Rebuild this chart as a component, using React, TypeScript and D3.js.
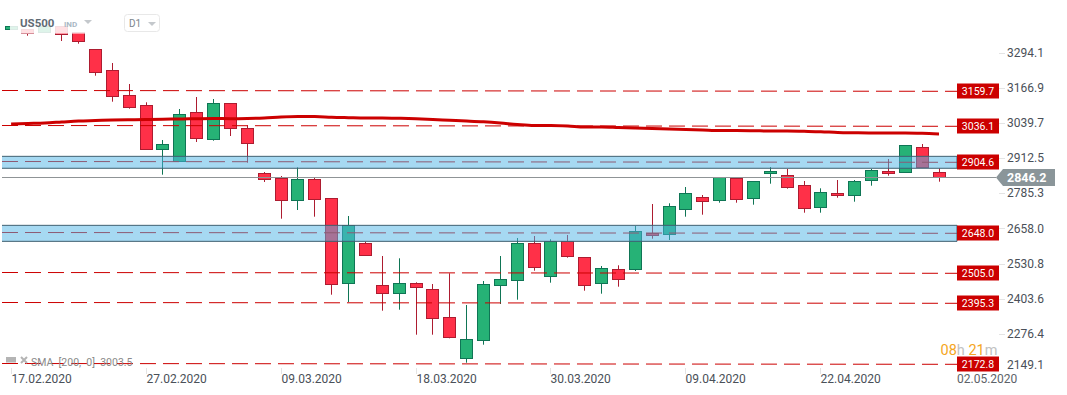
import React from "react";
import * as d3 from "d3";

const opens = [3380.4,3376.8,3367.1,3391.2,3369.6,3307.3,3231.7,3141.7,3105.7,2945.9,2902.7,3080.5,2983.3,3112.9,3022.9,2860.9,2842.9,2763.7,2839.3,2770.9,2463.5,2608.9,2457.7,2428.9,2464.9,2443.3,2342.5,2194.9,2259.7,2457.7,2475.7,2608.9,2490.1,2614.7,2558.5,2464.9,2515.3,2513.9,2646.0,2641.3,2731.3,2774.5,2763.7,2844.0,2770.9,2860.9,2853.7,2817.7,2738.5,2788.9,2781.7,2835.7,2868.1,2864.5,2954.5,2864.5];
const closes = [3391.2,3366.0,3391.2,3362.4,3334.7,3224.5,3138.1,3097.1,2947.3,2965.3,3073.3,2985.5,3112.9,3021.5,2967.5,2837.9,2763.7,2839.3,2765.9,2459.9,2672.3,2564.3,2428.9,2464.9,2450.5,2338.9,2270.5,2263.3,2461.3,2479.3,2608.9,2522.5,2614.7,2562.1,2457.7,2518.9,2479.3,2652.1,2636.3,2742.1,2788.9,2760.1,2846.5,2767.3,2832.1,2868.1,2810.5,2734.9,2792.5,2780.3,2832.1,2871.7,2860.9,2961.7,2882.5,2847.6];
const highs = [3391.2,3376.8,3391.2,3391.2,3369.6,3307.3,3258.0,3182.4,3116.5,2980.8,3092.4,3135.6,3128.4,3112.9,3033.7,2865.6,2851.2,2882.5,2845.1,2770.9,2707.2,2614.7,2563.2,2554.9,2468.5,2462.4,2500.9,2386.8,2473.2,2563.2,2628.0,2635.2,2623.3,2638.8,2558.5,2527.2,2529.7,2671.2,2750.4,2752.9,2811.6,2782.8,2846.5,2844.0,2832.1,2883.6,2876.4,2833.2,2806.9,2836.8,2836.8,2876.4,2912.4,2961.7,2966.4,2878.9];
const lows = [3380.4,3356.3,3367.1,3337.2,3327.5,3212.3,3118.7,3093.5,2947.3,2855.9,2902.7,2973.6,2978.3,2995.2,2899.1,2829.6,2697.5,2728.8,2704.7,2423.9,2397.6,2564.3,2366.3,2369.9,2279.9,2279.9,2266.9,2179.1,2243.9,2390.4,2405.9,2510.3,2467.1,2557.1,2438.3,2427.5,2452.7,2509.2,2625.5,2620.8,2704.7,2711.9,2755.1,2755.1,2747.9,2823.5,2805.5,2719.1,2719.1,2773.1,2758.7,2816.3,2852.3,2864.5,2882.5,2830.7];
const sma = [3038.4,3040.2,3042,3045.6,3049.2,3051,3052.8,3053.5,3054.6,3055.7,3056.4,3057.5,3058.2,3057.5,3058.2,3060,3063.6,3065.4,3065.4,3062.5,3061.1,3060,3060,3058.9,3057.1,3054.6,3051.7,3049.2,3046.3,3042,3036.6,3033,3033,3031.2,3027.6,3027.6,3025.8,3024,3022.2,3020.4,3018.6,3016.8,3015,3015,3014.3,3013.2,3013.2,3012.1,3010.7,3007.8,3006.7,3006,3006,3006,3004.9,3002.4];

const levelLabels = ["3159.7","3036.1","2904.6","2648.0","2505.0","2395.3","2172.8"];
const levelPrices = [3159,3033,2903.4,2647.8,2503.8,2395.8,2176.2];
const bandTops = [2922,2673.6];
const bandBottoms = [2879,2616];
const currentPrice = 2845.8;

const axisTicks = ["3294.1","3166.9","3039.7","2912.5","2785.3","2658.0","2530.8","2403.6","2276.4"];
const dateLabels = ["17.02.2020","27.02.2020","09.03.2020","18.03.2020","30.03.2020","09.04.2020","22.04.2020"];
const dateIndexes = [0,8,16,24,32,40,48];

const FONT = "Roboto, sans-serif";
const RED = "#cc0000";

export default function App() {
  const x = d3.scaleLinear().domain([0, 55]).range([11.1, 939]);
  const y = d3.scaleLinear().domain([3484.8, 3484.8 - 3.6 * 395]).range([0, 395]);
  const axisY = d3.scaleLinear().domain([3294.1, 2276.4]).range([53.3, 334.3]);
  const cx = (i: number) => Math.floor(x(i)) + 0.5;
  const snap = (v: number) => Math.floor(v) + 0.5;
  const smaLine = d3.line<number>().x((_, i) => x(i)).y((d) => y(d)).curve(d3.curveMonotoneX);
  const left = 2;
  const right = 957;

  return (
    <svg width={1067} height={395} style={{ position: "fixed", left: 0, top: 0, display: "block", background: "#fff" }} fontFamily={FONT}>
      {/* candles */}
      {opens.map((o, i) => {
        const c = closes[i];
        const bull = c >= o;
        const stroke = bull ? "#0f7555" : "#ad1c30";
        const fill = bull ? "#26b276" : "#ff3048";
        const top = snap(y(Math.max(o, c)));
        const bot = snap(y(Math.min(o, c)));
        return (
          <g key={i}>
            <line x1={cx(i)} x2={cx(i)} y1={y(highs[i])} y2={y(lows[i])} stroke={stroke} strokeWidth={1} />
            <rect x={cx(i) - 6} y={top} width={12} height={Math.max(bot - top, 1)} fill={fill} stroke={stroke} strokeWidth={1} />
          </g>
        );
      })}

      {/* current price line */}
      <line x1={left} x2={996} y1={snap(y(currentPrice))} y2={snap(y(currentPrice))} stroke="#8f9496" strokeWidth={1} />

      {/* horizontal levels */}
      {levelPrices.map((p, i) => (
        <line key={i} x1={left} x2={right} y1={snap(y(p))} y2={snap(y(p)) + 0.8} stroke={RED} strokeWidth={1} strokeDasharray="16 7" />
      ))}

      {/* bands */}
      {bandTops.map((t, i) => (
        <g key={i}>
          <rect x={left} y={y(t)} width={right - left} height={y(bandBottoms[i]) - y(t)} fill="#4db3e5" fillOpacity={0.5} />
          <line x1={left} x2={right} y1={y(t)} y2={y(t)} stroke="#3f5f70" strokeWidth={1} />
          <line x1={left} x2={right} y1={y(bandBottoms[i])} y2={y(bandBottoms[i])} stroke="#3f5f70" strokeWidth={1} />
          <line x1={right} x2={right} y1={y(t)} y2={y(bandBottoms[i])} stroke="#3f5f70" strokeWidth={1} />
        </g>
      ))}

      {/* SMA */}
      <path d={smaLine(sma) ?? ""} fill="none" stroke={RED} strokeWidth={3} />

      {/* header fade */}
      <rect x={10} y={0} width={170} height={33.6} fill="#fff" fillOpacity={0.85} />
      <text x={20} y={27} fontSize={11.5} fontWeight={700} fill="#5f6b75">US500</text>
      <text x={64} y={27} fontSize={8} fontWeight={700} fill="#a9b8c4">IND</text>
      <path d="M84 20 L92 20 L88 24 Z" fill="#c4c8cc" />
      <rect x={124.5} y={14.5} width={35} height={17} rx={3} fill="#fff" stroke="#e8e8e8" />
      <text x={129} y={27} fontSize={10} fill="#7c858c">D1</text>
      <path d="M148 22 L156 22 L152 26 Z" fill="#c4c8cc" />

      {/* level labels */}
      {levelLabels.map((l, i) => {
        const c = snap(y(levelPrices[i])) + 0.5;
        return (
          <g key={l}>
            <rect x={957} y={c - 7.5} width={42} height={15} fill={RED} />
            <text x={978} y={c + 3.6} textAnchor="middle" fontSize={10.5} fill="#fff">{l}</text>
          </g>
        );
      })}

      {/* price axis */}
      {axisTicks.map((t) => (
        <g key={t}>
          <line x1={999} x2={1005} y1={snap(axisY(+t))} y2={snap(axisY(+t))} stroke="#e4e4e4" />
          <text x={1007} y={axisY(+t) + 3.7} fontSize={12} fill="#4a5058">{t}</text>
        </g>
      ))}
      <text x={1007} y={368.5} fontSize={12} fill="#4a5058">2149.1</text>

      {/* current price tag */}
      <path d={`M996 ${snap(y(currentPrice))} L1003 169 L1055 169 L1055 186 L1003 186 Z`} fill="#8a9599" />
      <text x={1007} y={182.3} fontSize={12.5} fontWeight={700} fill="#fff">2846.2</text>

      {/* countdown */}
      <text x={940.5} y={355} fontSize={14.5}>
        <tspan fill="#f5a623">08</tspan>
        <tspan fill="#c2c2c2">h </tspan>
        <tspan fill="#f5a623">21</tspan>
        <tspan fill="#c2c2c2">m</tspan>
      </text>

      {/* date axis */}
      {dateLabels.map((d, i) => (
        <g key={d}>
          <line x1={cx(dateIndexes[i])} x2={cx(dateIndexes[i])} y1={368} y2={374} stroke="#e4e4e4" />
          <text x={cx(dateIndexes[i])} y={383} fontSize={12} fill="#4a5058">{d}</text>
        </g>
      ))}
      <text x={957} y={383} fontSize={12} fill="#5c6268">02.05.2020</text>

      {/* SMA legend */}
      <rect x={6} y={357} width={10} height={5.5} fill="#b4b4b4" />
      <path d="M21 357 L27 363 M27 357 L21 363" stroke="#b4b4b4" strokeWidth={2} />
      <text x={31} y={365.5} fontSize={10.5} fill="#8a8a8a" xmlSpace="preserve">SMA  [200,  0]  3003.5</text>
    </svg>
  );
}
